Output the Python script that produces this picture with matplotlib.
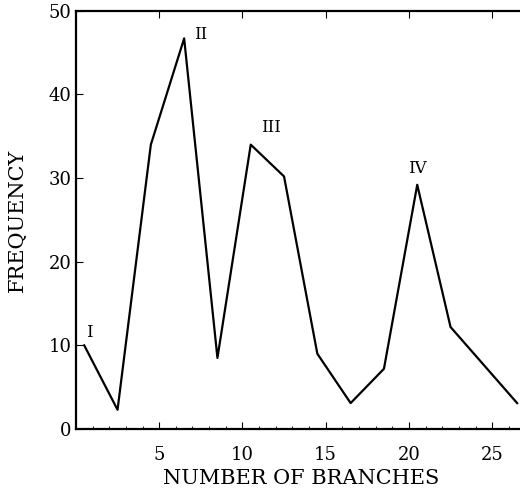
import matplotlib.pyplot as plt
from matplotlib.ticker import MultipleLocator

# branch counts and frequencies
branches = [0.5, 2.5, 4.5, 6.5, 8.5, 10.5, 12.5, 14.5, 16.5, 18.5, 20.5, 22.5, 26.5]
frequency = [10, 2.3, 34, 46.7, 8.5, 34, 30.2, 9, 3.1, 7.2, 29.2, 12.2, 3.1]

# peak labels
peak_names = ["I", "II", "III", "IV"]
peak_pos = [(0.8, 11.6), (7.5, 47.2), (11.7, 36), (20.5, 31.2)]
x_ticks = [5, 10, 15, 20, 25]

plt.rcParams['font.family'] = ['DejaVu Serif']

fig = plt.figure(figsize=(5.2, 4.92), dpi=100)
ax = fig.add_axes([0.146, 0.128, 0.8645, 0.850])

ax.plot(branches, frequency, color='black', linewidth=1.6)

for name, (px, py) in zip(peak_names, peak_pos):
    ax.text(px, py, name, ha='center', va='center', fontsize=12)

ax.set_xlim(0, 27)
ax.set_ylim(0, 50)
ax.set_xticks(x_ticks)
ax.xaxis.set_minor_locator(MultipleLocator(1))
ax.yaxis.set_major_locator(MultipleLocator(10))

ax.tick_params(axis='both', which='major', direction='in', length=5,
               labelsize=13, top=True)
ax.tick_params(axis='x', which='major', pad=12)
ax.tick_params(axis='x', which='minor', direction='in', length=2.5, top=False)
ax.tick_params(axis='y', which='major', pad=3)
for s in ax.spines.values():
    s.set_linewidth(1.6)

ax.set_xlabel("NUMBER OF BRANCHES", fontsize=15, labelpad=4)
ax.set_ylabel("FREQUENCY", fontsize=15, labelpad=16)

fig.savefig("out.png", dpi=100)
